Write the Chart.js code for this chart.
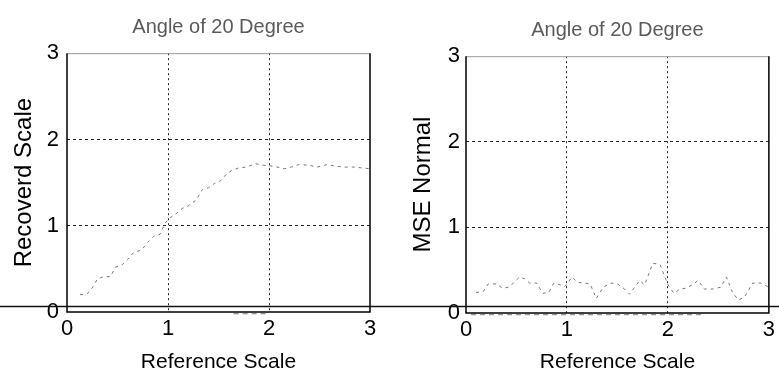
<!DOCTYPE html>
<html>
<head>
<meta charset="utf-8">
<script src="https://cdn.jsdelivr.net/npm/chart.js@4.4.1/dist/chart.umd.min.js"></script>
<style>
  html, body { margin: 0; padding: 0; background: #fff; }
  #wrap { position: relative; width: 779px; height: 376px; overflow: hidden; }
  .box { position: absolute; top: 0; height: 376px; }
</style>
</head>
<body>
<div id="wrap">
  <div class="box" style="left:0;width:389px"><canvas id="leftChart"></canvas></div>
  <div class="box" style="left:389px;width:390px"><canvas id="rightChart"></canvas></div>
</div>
<script>
// recovered scale vs reference scale (left panel)
const recX = [0.13, 0.2, 0.25, 0.3, 0.36, 0.43, 0.48, 0.55, 0.6, 0.66, 0.74, 0.8, 0.86, 0.92, 0.97,
  1.03, 1.08, 1.14, 1.2, 1.28, 1.34, 1.4, 1.46, 1.52, 1.58, 1.63, 1.7, 1.78, 1.86, 1.95,
  2.05, 2.15, 2.22, 2.3, 2.4, 2.48, 2.58, 2.66, 2.75, 2.85, 2.92, 3.0];
const recY = [0.2, 0.21, 0.28, 0.38, 0.41, 0.41, 0.52, 0.55, 0.61, 0.69, 0.72, 0.81, 0.88, 0.9, 1.03,
  1.1, 1.14, 1.2, 1.23, 1.3, 1.42, 1.44, 1.49, 1.52, 1.6, 1.64, 1.67, 1.68, 1.72, 1.7,
  1.69, 1.66, 1.68, 1.71, 1.7, 1.68, 1.71, 1.69, 1.68, 1.68, 1.67, 1.66];
const recLowX = [1.65, 1.75, 1.85, 1.98];
const recLowY = [-0.02, -0.02, -0.02, -0.02];

// MSE normal vs reference scale (right panel)
const mseX = [0.1, 0.17, 0.22, 0.3, 0.36, 0.42, 0.47, 0.53, 0.58, 0.63, 0.7, 0.76, 0.82, 0.87, 0.93, 0.98,
  1.05, 1.1, 1.17, 1.23, 1.29, 1.36, 1.43, 1.5, 1.57, 1.62, 1.67, 1.72, 1.77, 1.85, 1.92,
  2.0, 2.06, 2.12, 2.18, 2.24, 2.3, 2.36, 2.44, 2.52, 2.58, 2.64, 2.7, 2.76, 2.84, 2.92, 3.0];
const mseY = [0.24, 0.25, 0.34, 0.34, 0.29, 0.3, 0.35, 0.42, 0.4, 0.35, 0.35, 0.23, 0.24, 0.35, 0.33, 0.31,
  0.42, 0.36, 0.35, 0.34, 0.17, 0.3, 0.35, 0.34, 0.28, 0.22, 0.3, 0.38, 0.33, 0.58, 0.57,
  0.33, 0.23, 0.28, 0.29, 0.33, 0.38, 0.28, 0.28, 0.3, 0.42, 0.24, 0.15, 0.19, 0.35, 0.35, 0.3];
const mseLowX = [0.05, 0.3, 0.6, 2.07, 2.33];
const mseLowY = [-0.02, -0.02, -0.02, -0.02, -0.02];

const tickValues = [0, 1, 2, 3];
const titleText = "Angle of 20 Degree";
const xTitle = "Reference Scale";

function toPoints(xs, ys) {
    return xs.map((x, i) => ({ x: x, y: ys[i] }));
}

const narrow = "'Liberation Sans Narrow', 'Liberation Sans', Arial, sans-serif";
const sans = "'Liberation Sans', Arial, sans-serif";

// box around the plot + the scan line crossing the page
const framePlugin = {
    id: "frame",
    afterDatasetsDraw(chart) {
        const ctx = chart.ctx;
        const a = chart.chartArea;
        ctx.save();
        ctx.strokeStyle = "#999";
        ctx.lineWidth = 1;
        ctx.beginPath();
        ctx.moveTo(a.left, a.top + 0.5);
        ctx.lineTo(a.right, a.top + 0.5);
        ctx.stroke();
        ctx.strokeStyle = "#000";
        ctx.lineWidth = 1.5;
        ctx.beginPath();
        ctx.moveTo(a.left, a.top);
        ctx.lineTo(a.left, a.bottom);
        ctx.lineTo(a.right, a.bottom);
        ctx.lineTo(a.right, a.top);
        ctx.stroke();
        ctx.lineWidth = 1.5;
        ctx.strokeStyle = "#111";
        ctx.beginPath();
        ctx.moveTo(0, 306.5);
        ctx.lineTo(chart.width, 306.5);
        ctx.stroke();
        ctx.restore();
    }
};

function makeChart(id, opts) {
    const gridColor = c => (c.tick && (c.tick.value === 1 || c.tick.value === 2)) ? "#222" : "rgba(0,0,0,0)";
    return new Chart(document.getElementById(id), {
        type: "line",
        data: {
            datasets: [{
                data: toPoints(opts.xs, opts.ys),
                borderColor: "#777",
                borderWidth: 1,
                borderDash: [3, 4],
                pointRadius: 0,
                tension: 0
            }, {
                data: toPoints(opts.lowX, opts.lowY),
                borderColor: "#777",
                borderWidth: 1,
                borderDash: [5, 4],
                pointRadius: 0,
                clip: false
            }]
        },
        options: {
            responsive: true,
            maintainAspectRatio: false,
            animation: false,
            layout: { padding: { left: 0, right: opts.padRight, top: 0, bottom: 0 } },
            plugins: {
                legend: { display: false },
                tooltip: { enabled: false },
                title: {
                    display: true,
                    text: titleText,
                    fullSize: false,
                    color: "#5a5a5a",
                    font: { family: sans, size: 20, weight: "normal", lineHeight: 1.2 },
                    padding: { top: opts.titleTop, bottom: opts.titleBottom }
                }
            },
            scales: {
                x: {
                    type: "linear",
                    min: 0,
                    max: 3,
                    afterBuildTicks: s => { s.ticks = tickValues.map(v => ({ value: v })); },
                    afterFit: s => { s.height = opts.xHeight; },
                    grid: { color: gridColor, borderDash: [2, 3], lineWidth: 1, drawTicks: false },
                    border: { display: false, dash: [2, 3] },
                    ticks: { color: "#000", padding: 4, font: { family: narrow, size: 22 } },
                    title: {
                        display: true,
                        text: xTitle,
                        color: "#000",
                        font: { family: sans, size: 21, lineHeight: 1.2 },
                        padding: { top: 0, bottom: 1 }
                    }
                },
                y: {
                    type: "linear",
                    min: 0,
                    max: 3,
                    afterBuildTicks: s => { s.ticks = tickValues.map(v => ({ value: v })); },
                    afterFit: s => { s.width = opts.yWidth; },
                    grid: { color: gridColor, borderDash: [3, 3], lineWidth: 1, drawTicks: false },
                    border: { display: false, dash: [3, 3] },
                    ticks: { color: "#000", padding: opts.yTickPad, font: { family: narrow, size: 22 } },
                    title: {
                        display: true,
                        text: opts.yTitle,
                        color: "#000",
                        font: { family: sans, size: 24, lineHeight: 1.2 },
                        padding: { top: opts.yTitlePad, bottom: 0 }
                    }
                }
            }
        },
        plugins: [framePlugin]
    });
}

makeChart("leftChart", {
    xs: recX, ys: recY, lowX: recLowX, lowY: recLowY,
    yTitle: "Recoverd Scale",
    padRight: 19, yWidth: 67, xHeight: 64,
    titleTop: 15, titleBottom: 14.2,
    yTickPad: 8, yTitlePad: 10
});

makeChart("rightChart", {
    xs: mseX, ys: mseY, lowX: mseLowX, lowY: mseLowY,
    yTitle: "MSE Normal",
    padRight: 8, yWidth: 77, xHeight: 63,
    titleTop: 18, titleBottom: 14.2,
    yTickPad: 6, yTitlePad: 20
});
</script>
</body>
</html>
